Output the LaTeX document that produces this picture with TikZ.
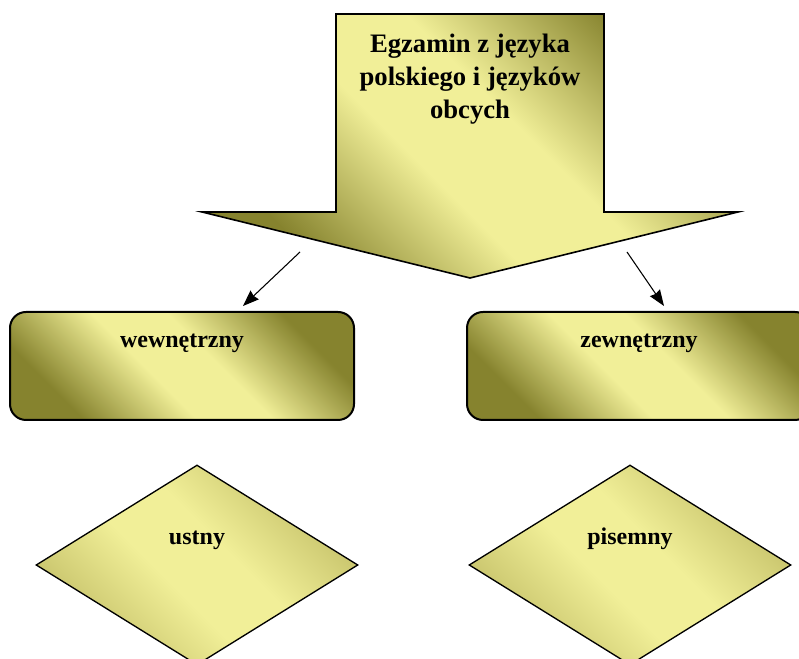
\documentclass[tikz,border=0pt]{standalone}
\usepackage{tikz}
\usepackage{fontspec}
\setmainfont{Liberation Serif}
\usetikzlibrary{shapes.geometric,arrows.meta}
\definecolor{khakilight}{RGB}{241,239,152}
\definecolor{khakidark}{RGB}{134,131,46}
\definecolor{khakimid}{RGB}{198,194,106}
\pgfdeclareverticalshading{khaki}{100bp}{color(0bp)=(khakidark); color(26bp)=(khakidark); color(44bp)=(khakilight); color(56bp)=(khakilight); color(74bp)=(khakidark); color(100bp)=(khakidark)}
\pgfdeclareverticalshading{khakisoft}{100bp}{color(0bp)=(khakimid); color(26bp)=(khakimid); color(44bp)=(khakilight); color(56bp)=(khakilight); color(74bp)=(khakimid); color(100bp)=(khakimid)}

\begin{document}
\begin{tikzpicture}[x=0.75pt,y=0.75pt,
		olive/.style={shading=khaki,shading angle=-45},
		oliveflat/.style={shading=khakisoft,shading angle=-45},
		kind/.style={olive,draw,line width=1.5pt,rounded corners=12pt,inner sep=0pt,minimum width=258pt,minimum height=81pt,text height=27pt,text depth=54pt,font=\fontsize{18}{21}\selectfont\bfseries},
		form/.style={oliveflat,draw,line width=1pt,diamond,aspect=1.61,inner sep=0pt,minimum width=241.5pt,minimum height=150pt,text height=14pt,text depth=44pt,font=\fontsize{18}{21}\selectfont\bfseries},
		pointer/.style={line width=0.8pt,-{Stealth[length=12pt,width=9pt,inset=1pt]}}]
			\useasboundingbox (0,0) rectangle (799,659);
			\clip (0,0) rectangle (799,659);
			\coordinate (shaft_l) at (336,645);
			\coordinate (shaft_r) at (604,645);
			\coordinate (wing_l) at (202,447);
			\coordinate (wing_r) at (738,447);
			\coordinate (tip) at (470,381);
			\coordinate (from_l) at (300,407);
			\coordinate (from_r) at (627,407);
	
			% big arrow
			\draw[olive,line width=1.2pt] (shaft_l)--(shaft_r)--(shaft_r|-wing_r)--(wing_r)--(tip)--(wing_l)--(shaft_l|-wing_l)--cycle;
			\node[inner sep=0pt,anchor=north,align=center,font=\fontsize{20}{24.5}\selectfont\bfseries] (title) at (470,625) {Egzamin z języka\\polskiego i języków\\obcych};
	
			\node[kind] (wew) at (182,293) {wewnętrzny};
			\node[kind] (zew) at (639,293) {zewnętrzny};
			\node[form] (ustny) at (197,94) {ustny};
			\node[form] (pisemny) at (630,94) {pisemny};
	
			\draw[pointer] (from_l) -- ([shift={(61,5)}]wew.north);
			\draw[pointer] (from_r) -- ([shift={(25,5)}]zew.north);
		\end{tikzpicture}
\end{document}
